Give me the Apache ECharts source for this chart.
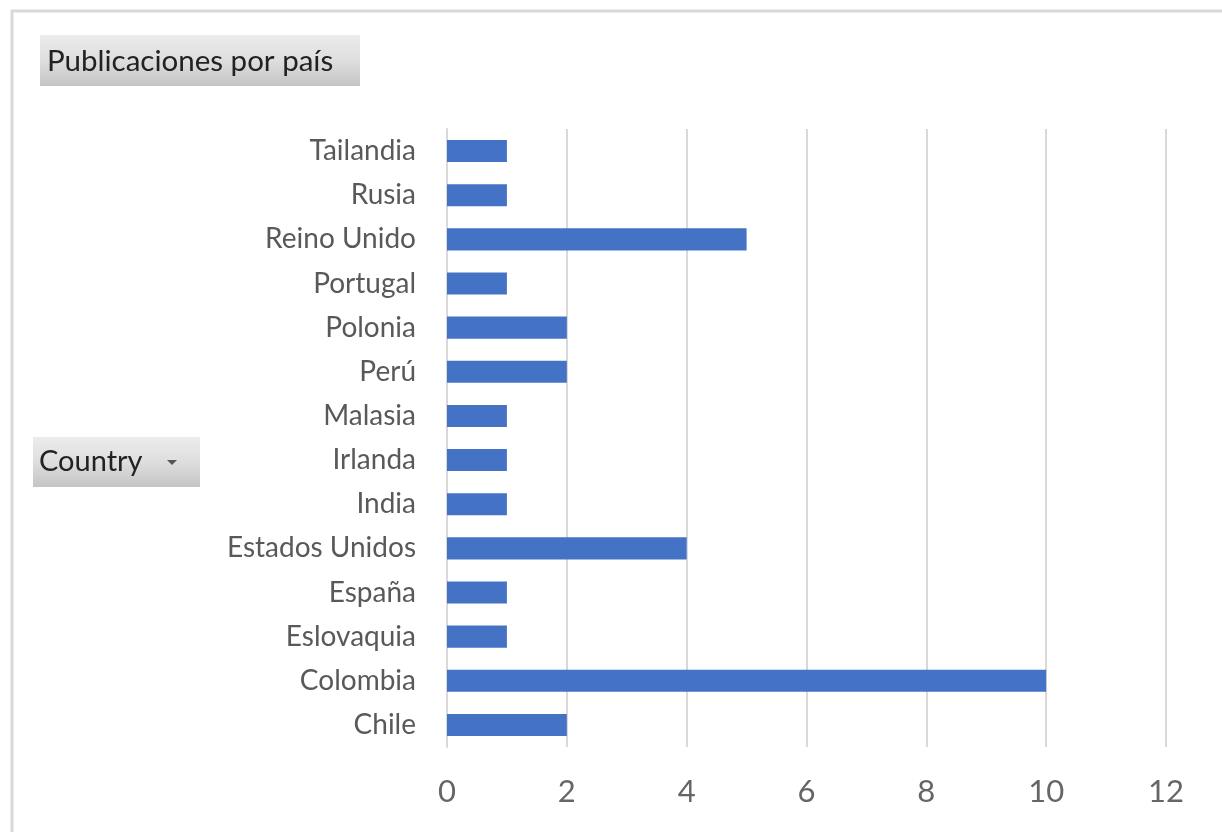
<!DOCTYPE html>
<html><head><meta charset="utf-8">
<script src="https://cdn.jsdelivr.net/npm/echarts@6/dist/echarts.min.js"></script>
<style>html,body{margin:0;padding:0;background:#fff}#c{width:1222px;height:832px}</style>
</head><body><div id="c"></div>
<script>
const categories = ['Chile','Colombia','Eslovaquia','España','Estados Unidos','India','Irlanda','Malasia','Perú','Polonia','Portugal','Reino Unido','Rusia','Tailandia'];
const values = [2,10,1,1,4,1,1,1,2,2,1,5,1,1];
const titleText = 'Publicaciones por país';
const fieldText = 'Country';
const FONT = 'Lato, "Open Sans", sans-serif';
const chart = echarts.init(document.getElementById('c'));
const grad = new echarts.graphic.LinearGradient(0,0,0,1,[{offset:0,color:'#ececec'},{offset:0.5,color:'#dedede'},{offset:1,color:'#c4c4c4'}]);
chart.setOption({
  animation:false,
  grid:{left:447,right:56,top:129,bottom:85,containLabel:false},
  xAxis:{type:'value',min:0,max:12,interval:2,
    axisLine:{show:false},axisTick:{show:false},
    splitLine:{show:true,lineStyle:{color:'#d9d9d9',width:2}},
    axisLabel:{color:'#666666',fontSize:31,fontFamily:FONT,margin:29}},
  yAxis:{type:'category',data:categories,
    axisLine:{show:true,lineStyle:{color:'#d9d9d9',width:2}},axisTick:{show:false},
    axisLabel:{color:'#595959',fontSize:28,fontFamily:FONT,margin:31}},
  series:[{type:'bar',data:values,barCategoryGap:'50%',itemStyle:{color:'#4472c4'}}],
  graphic:[
    {type:'rect',shape:{x:12,y:11,width:1222,height:900},style:{fill:'none',stroke:'#d9d9d9',lineWidth:3},silent:true,z:-1},
    {type:'rect',shape:{x:40,y:35,width:320,height:51},style:{fill:grad}},
    {type:'text',x:47,y:61,style:{text:titleText,fontSize:29.5,fontFamily:FONT,fill:'#222',verticalAlign:'middle'}},
    {type:'rect',shape:{x:33,y:437,width:167,height:50},style:{fill:grad}},
    {type:'text',x:39,y:462,style:{text:fieldText,fontSize:29,fontFamily:FONT,fill:'#222',verticalAlign:'middle'}},
    {type:'polygon',shape:{points:[[167,460],[177,460],[172,465]]},style:{fill:'#555'}}
  ]
});
</script></body></html>
